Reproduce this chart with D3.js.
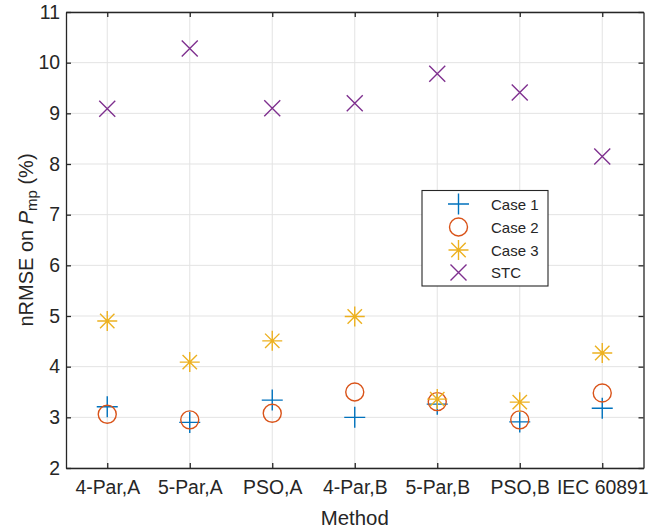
<!DOCTYPE html>
<html>
<head>
<meta charset="utf-8">
<script src="https://cdn.jsdelivr.net/npm/d3@7"></script>
<style>
  body { margin: 0; background: #fff; }
  text { font-family: "Liberation Sans", Arial, sans-serif; fill: #262626; }
</style>
</head>
<body>
<svg id="chart" width="656" height="532"></svg>
<script>
const categories = ["4-Par,A", "5-Par,A", "PSO,A", "4-Par,B", "5-Par,B", "PSO,B", "IEC 60891"];
const case1 = [3.21, 2.90, 3.34, 3.00, 3.26, 2.91, 3.18];
const case2 = [3.06, 2.95, 3.08, 3.50, 3.31, 2.95, 3.48];
const case3 = [4.90, 4.09, 4.51, 4.99, 3.36, 3.30, 4.27];
const stc   = [9.09, 10.28, 9.10, 9.20, 9.78, 9.41, 8.15];
const yTicks = [2, 3, 4, 5, 6, 7, 8, 9, 10, 11];
const seriesNames = ["Case 1", "Case 2", "Case 3", "STC"];
const seriesColors = ["#0072BD", "#D95319", "#EDB120", "#7E2F8E"];
const seriesMarkers = ["plus", "circle", "asterisk", "cross"];

const svg = d3.select("#chart");
const m = { left: 66, top: 12, right: 643.5, bottom: 468 };
const x = d3.scaleLinear().domain([0.5, categories.length + 0.5]).range([m.left, m.right]);
const y = d3.scaleLinear().domain([2, 11]).range([m.bottom, m.top]);
const xPos = categories.map((c, i) => i + 1);

// grid
const grid = svg.append("g");
grid.selectAll("line.gx").data(xPos).enter().append("line")
  .attr("x1", d => x(d)).attr("x2", d => x(d)).attr("y1", m.top).attr("y2", m.bottom)
  .attr("stroke", "#e3e3e3").attr("stroke-width", 1);
grid.selectAll("line.gy").data(yTicks).enter().append("line")
  .attr("y1", d => y(d)).attr("y2", d => y(d)).attr("x1", m.left).attr("x2", m.right)
  .attr("stroke", "#e3e3e3").attr("stroke-width", 1);

// axes
const axisColor = "#262626";
const tickLen = 5;
const xAxis = d3.axisBottom(x).tickValues(xPos).tickFormat((d, i) => categories[i]).tickSizeInner(-tickLen).tickSizeOuter(0).tickPadding(12);
const yAxis = d3.axisLeft(y).tickValues(yTicks).tickFormat(d3.format("d")).tickSizeInner(-tickLen).tickSizeOuter(0).tickPadding(6);
const xTop = d3.axisTop(x).tickValues(xPos).tickFormat("").tickSizeInner(-tickLen).tickSizeOuter(0);
const yRight = d3.axisRight(y).tickValues(yTicks).tickFormat("").tickSizeInner(-tickLen).tickSizeOuter(0);

function styleAxis(g) {
  g.selectAll("path").attr("stroke", axisColor).attr("stroke-width", 1.3);
  g.selectAll("line").attr("stroke", axisColor).attr("stroke-width", 1.3);
  g.selectAll("text").attr("fill", "#262626").style("font-size", "19.4px").style("font-family", "'Liberation Sans', Arial, sans-serif");
}
svg.append("g").attr("transform", `translate(0,${m.bottom})`).call(xAxis).call(styleAxis);
svg.append("g").attr("transform", `translate(${m.left},0)`).call(yAxis).call(styleAxis);
svg.append("g").attr("transform", `translate(0,${m.top})`).call(xTop).call(styleAxis);
svg.append("g").attr("transform", `translate(${m.right},0)`).call(yRight).call(styleAxis);

// markers
function markerPath(type) {
  const p = d3.path();
  if (type === "plus") {
    const s = 10.5;
    p.moveTo(-s, 0); p.lineTo(s, 0); p.moveTo(0, -s); p.lineTo(0, s);
  } else if (type === "circle") {
    const r = 9;
    p.moveTo(r, 0); p.arc(0, 0, r, 0, 2 * Math.PI);
  } else if (type === "asterisk") {
    const s = 10, d = 7.2;
    p.moveTo(-s, 0); p.lineTo(s, 0); p.moveTo(0, -s); p.lineTo(0, s);
    p.moveTo(-d, -d); p.lineTo(d, d); p.moveTo(-d, d); p.lineTo(d, -d);
  } else if (type === "cross") {
    const s = 8;
    p.moveTo(-s, -s); p.lineTo(s, s); p.moveTo(-s, s); p.lineTo(s, -s);
  }
  return p.toString();
}

const allSeries = [case1, case2, case3, stc];
allSeries.forEach((vals, si) => {
  svg.append("g").selectAll("path").data(vals).enter().append("path")
    .attr("transform", (d, i) => `translate(${x(xPos[i])},${y(d)})`)
    .attr("d", markerPath(seriesMarkers[si]))
    .attr("fill", "none").attr("stroke", seriesColors[si]).attr("stroke-width", 1.4);
});

// axis labels
svg.append("text").attr("x", (m.left + m.right) / 2).attr("y", 525)
  .attr("text-anchor", "middle").style("font-size", "20.4px").text("Method");

const yl = svg.append("text").attr("transform", `translate(33,${(m.top + m.bottom) / 2}) rotate(-90)`)
  .attr("text-anchor", "middle").style("font-size", "20px");
yl.append("tspan").text("nRMSE on ");
yl.append("tspan").style("font-style", "italic").text("P");
yl.append("tspan").attr("dy", 4).style("font-size", "15px").text("mp");
yl.append("tspan").attr("dy", -4).text(" (%)");

// legend
const lg = svg.append("g");
lg.append("rect").attr("x", 422).attr("y", 190.5).attr("width", 126).attr("height", 95.5)
  .attr("fill", "#fff").attr("stroke", axisColor).attr("stroke-width", 1.1);
const rowY = [204, 227, 250, 272.5];
seriesNames.forEach((name, si) => {
  lg.append("path").attr("transform", `translate(458.5,${rowY[si]})`)
    .attr("d", markerPath(seriesMarkers[si]))
    .attr("fill", "none").attr("stroke", seriesColors[si]).attr("stroke-width", 1.4);
  lg.append("text").attr("x", 491).attr("y", rowY[si] + 5.5)
    .style("font-size", "15px").text(name);
});
</script>
</body>
</html>
